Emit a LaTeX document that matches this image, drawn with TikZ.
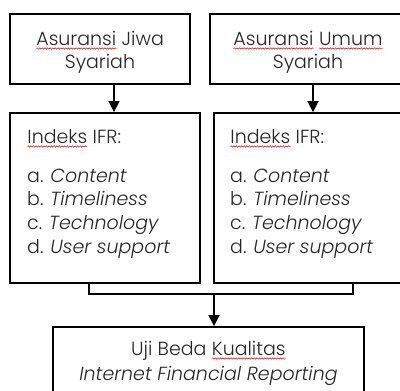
\documentclass[tikz,border=0pt]{standalone}
\usepackage{fontspec}
\setmainfont{Poppins Light}
\usetikzlibrary{arrows.meta,decorations.pathmorphing}
\newcommand{\sqw}[1]{\tikz[baseline=(w.base),x=1pt,y=1pt]{\node[inner sep=0pt,outer sep=0pt,anchor=base,draw=none] (w) at (0,0) {#1};\draw[red,line width=0.5pt,decorate,decoration={snake,amplitude=0.7pt,segment length=2.6pt}] ([yshift=-3.5pt]w.base west) -- ([yshift=-3.5pt]w.base east);}}
\tikzset{
  box/.style={draw=black, line width=1.8pt, inner sep=0pt, rectangle},
  txt/.style={inner sep=0pt, text=black!85, font=\fontsize{19}{23}\selectfont},
  ctr/.style={txt, anchor=base},
  lft/.style={txt, anchor=base west},
  conn/.style={line width=1.6pt, -{Triangle[width=11pt,length=11pt]}},
  brk/.style={line width=1.3pt}
}
\begin{document}
\begin{tikzpicture}[x=1pt,y=-1pt]
\useasboundingbox (0,0) rectangle (400,391);
\clip (0,0) rectangle (400,391);
% top boxes
\node[box, minimum width=180pt, minimum height=70pt] (A1) at (100,49) {};
\node[box, minimum width=196pt, minimum height=70pt] (A2) at (308,49) {};
\node[ctr] (A1a) at (100,45) {\sqw{Asuransi} Jiwa};
\node[ctr] (A1b) at (100,68) {Syariah};
\node[ctr] (A2a) at (308,45) {\sqw{Asuransi} \sqw{Umum}};
\node[ctr] (A2b) at (308,68) {Syariah};
% middle boxes
\node[box, minimum width=190pt, minimum height=170pt] (B1) at (105,198) {};
\node[box, minimum width=190pt, minimum height=170pt] (B2) at (309,198) {};
\foreach \n/\x in {B1/27, B2/230}{
  \node[lft] (\n h) at (\x,143) {\sqw{Indeks} IFR:};
  \node[lft] (\n a) at (\x,182) {a. \textit{Content}};
  \node[lft] (\n b) at (\x,205) {b. \textit{Timeliness}};
  \node[lft] (\n c) at (\x,229) {c. \textit{Technology}};
  \node[lft] (\n d) at (\x,253) {d. \textit{User support}};
}
% bottom box
\node[box, minimum width=311pt, minimum height=72pt] (C) at (208.5,363) {};
\node[ctr] (Ca) at (208.5,355) {Uji Beda \sqw{Kualitas}};
\node[ctr] (Cb) at (208.5,380) {\textit{Internet Financial Reporting}};
% connectors
\coordinate (x1) at (114,0);
\coordinate (x2) at (313,0);
\coordinate (xm) at (214,0);
\coordinate (bl) at (89,294);
\coordinate (br) at (353,294);
\coordinate (bm) at (214,294);
\draw[conn] (A1.south -| x1) -- (B1.north -| x1);
\draw[conn] (A2.south -| x2) -- (B2.north -| x2);
\draw[brk] (B1.south -| bl) -- (bl) -- (br) -- (B2.south -| br);
\draw[conn] (bm) -- (C.north -| xm);
\end{tikzpicture}
\end{document}
